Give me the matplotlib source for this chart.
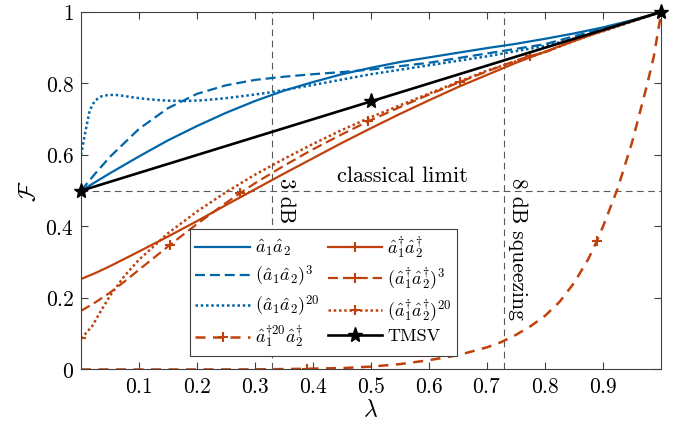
import matplotlib
matplotlib.use('Agg')
import matplotlib.pyplot as plt

plt.rcParams['mathtext.fontset'] = 'cm'
plt.rcParams['font.family'] = 'DejaVu Serif'

# fidelity curves
lam_b1 = [0, 0.05, 0.1, 0.15, 0.2, 0.25, 0.3, 0.35, 0.4, 0.45, 0.5, 0.55,
          0.6, 0.65, 0.7, 0.75, 0.8, 0.85, 0.9, 0.95, 1.0]
f_b1 = [0.500, 0.549, 0.596, 0.641, 0.681, 0.718, 0.751, 0.780, 0.804, 0.826,
        0.844, 0.860, 0.873, 0.886, 0.899, 0.911, 0.925, 0.940, 0.957, 0.977, 1.0]

lam_b3 = [0, 0.025, 0.05, 0.1, 0.15, 0.2, 0.25, 0.3, 0.35, 0.4, 0.45, 0.5,
          0.6, 0.7, 0.8, 0.9, 0.95, 1.0]
f_b3 = [0.500, 0.549, 0.595, 0.673, 0.731, 0.771, 0.795, 0.810, 0.819, 0.826,
        0.832, 0.839, 0.858, 0.884, 0.910, 0.954, 0.976, 1.0]

lam_b20 = [0, 0.007, 0.015, 0.024, 0.035, 0.047, 0.06, 0.075, 0.09, 0.11,
           0.13, 0.15, 0.18, 0.21, 0.25, 0.29, 0.33, 0.4, 0.5, 0.6, 0.7,
           0.8, 0.9, 1.0]
f_b20 = [0.600, 0.660, 0.725, 0.752, 0.764, 0.768, 0.768, 0.765, 0.761, 0.757,
         0.754, 0.752, 0.751, 0.753, 0.759, 0.767, 0.776, 0.796, 0.826, 0.851,
         0.876, 0.905, 0.946, 1.0]

lam_r1 = [0, 0.025, 0.05, 0.1, 0.15, 0.2, 0.25, 0.3, 0.35, 0.4, 0.45, 0.5,
          0.55, 0.6, 0.65, 0.7, 0.75, 0.8, 0.85, 0.9, 0.95, 1.0]
f_r1 = [0.253, 0.270, 0.289, 0.330, 0.372, 0.415, 0.460, 0.504, 0.548, 0.591,
        0.634, 0.675, 0.715, 0.753, 0.790, 0.824, 0.858, 0.889, 0.919, 0.947,
        0.974, 1.0]

lam_r3 = [0, 0.025, 0.05, 0.075, 0.1, 0.153, 0.2, 0.25, 0.274, 0.3, 0.35,
          0.4, 0.45, 0.495, 0.55, 0.6, 0.653, 0.7, 0.75, 0.774, 0.8, 0.85,
          0.9, 0.95, 1.0]
f_r3 = [0.164, 0.188, 0.215, 0.246, 0.279, 0.348, 0.407, 0.466, 0.493, 0.521,
        0.570, 0.616, 0.658, 0.694, 0.734, 0.769, 0.804, 0.834, 0.864, 0.877,
        0.887, 0.921, 0.948, 0.975, 1.0]

lam_r20 = [0, 0.01, 0.02, 0.03, 0.05, 0.075, 0.1, 0.15, 0.2, 0.25, 0.3, 0.35,
           0.4, 0.45, 0.5, 0.6, 0.7, 0.8, 0.9, 1.0]
f_r20 = [0.087, 0.104, 0.123, 0.152, 0.206, 0.262, 0.307, 0.381, 0.442, 0.496,
         0.545, 0.589, 0.631, 0.670, 0.706, 0.772, 0.836, 0.888, 0.949, 1.0]

lam_big = [0, 0.1, 0.2, 0.3, 0.39, 0.45, 0.5, 0.55, 0.6, 0.65, 0.7, 0.725,
           0.75, 0.775, 0.8, 0.825, 0.85, 0.875, 0.889, 0.9, 0.925, 0.95,
           0.975, 0.9875, 1.0]
f_big = [0.0, 0.0, 0.0, 0.0003, 0.002, 0.004, 0.008, 0.015, 0.026, 0.040,
         0.062, 0.077, 0.097, 0.121, 0.150, 0.189, 0.242, 0.310, 0.358, 0.400,
         0.505, 0.635, 0.790, 0.875, 0.995]

lam_tmsv = [0, 0.5, 1.0]
f_tmsv = [0.5, 0.75, 1.0]

lam_3db = 0.329
lam_8db = 0.729
classical = 0.5

labels = [r'$\hat{a}_1\hat{a}_2$', r'$(\hat{a}_1\hat{a}_2)^3$',
          r'$(\hat{a}_1\hat{a}_2)^{20}$', r'$\hat{a}_1^{\dagger 20}\hat{a}_2^{\dagger}$',
          r'$\hat{a}_1^{\dagger}\hat{a}_2^{\dagger}$',
          r'$(\hat{a}_1^{\dagger}\hat{a}_2^{\dagger})^3$',
          r'$(\hat{a}_1^{\dagger}\hat{a}_2^{\dagger})^{20}$', 'TMSV']

BLUE = '#0065a8'
RED = '#c0410c'
lw = 1.6
mk = dict(marker='+', ms=7, mew=1.5)

fig = plt.figure(figsize=(6.9, 4.33), dpi=100)
ax = fig.add_axes([0.1174, 0.1467, 0.8406, 0.8256])

ax.axhline(classical, color='0.35', lw=0.8, dashes=(6, 4))
ax.axvline(lam_3db, color='0.35', lw=0.8, dashes=(6, 4))
ax.axvline(lam_8db, color='0.35', lw=0.8, dashes=(6, 4))

h = []
h += ax.plot(lam_b1, f_b1, '-', color=BLUE, lw=lw)
h += ax.plot(lam_b3, f_b3, '--', color=BLUE, lw=lw, dashes=(4.5, 2.2))
h += ax.plot(lam_b20, f_b20, ':', color=BLUE, lw=lw + 0.2, dashes=(1, 1.1))
h += ax.plot(lam_big, f_big, '--', color=RED, lw=lw + 0.2, dashes=(4, 3),
             markevery=[4, 18], **mk)
h += ax.plot(lam_r1, f_r1, '-', color=RED, lw=lw, markevery=[21], **mk)
h += ax.plot(lam_r3, f_r3, '--', color=RED, lw=lw, dashes=(4.5, 2.2),
             markevery=[5, 8, 13, 16, 19], **mk)
h += ax.plot(lam_r20, f_r20, ':', color=RED, lw=lw + 0.2, dashes=(1, 1.1),
             markevery=[0], **mk)
h += ax.plot(lam_tmsv, f_tmsv, '-', color='black', lw=lw + 0.3, marker='*',
             ms=11, clip_on=False, zorder=5)

ax.text(0.555, 0.512, 'classical limit', family='cmr10', fontsize=16,
        ha='center', va='bottom')
ax.text(lam_3db + 0.008, 0.535, '3 dB', family='cmr10', fontsize=15.5,
        rotation=-90, ha='left', va='top')
ax.text(lam_8db + 0.008, 0.535, '8 dB squeezing', family='cmr10',
        fontsize=15.5, rotation=-90, ha='left', va='top')

ax.set_xlim(0, 1)
ax.set_ylim(0, 1)
xt = [0.1, 0.2, 0.3, 0.4, 0.5, 0.6, 0.7, 0.8, 0.9]
ax.set_xticks(xt)
ax.set_xticklabels(['$%g$' % v for v in xt])
yt = [0, 0.2, 0.4, 0.6, 0.8, 1]
ax.set_yticks(yt)
ax.set_yticklabels(['$%g$' % v for v in yt])
ax.tick_params(direction='in', top=True, right=True, length=5, width=0.8,
               color='0.25', labelsize=15.5, pad=5)
for s in ax.spines.values():
    s.set_linewidth(0.8)
    s.set_color('0.25')

ax.set_xlabel(r'$\lambda$', fontsize=17, labelpad=0)
ax.set_ylabel(r'$\mathcal{F}$', fontsize=17, labelpad=4)

leg = ax.legend(h, labels, ncol=2, loc='lower left',
                bbox_to_anchor=(0.188, 0.038), borderaxespad=0,
                prop={'family': 'cmr10', 'size': 13}, handlelength=3.0,
                columnspacing=0.45, labelspacing=0.28, fancybox=False,
                framealpha=1, edgecolor='0.25', handletextpad=0.3,
                borderpad=0.3)
leg.get_frame().set_linewidth(0.8)

fig.savefig('out.png', dpi=100)
